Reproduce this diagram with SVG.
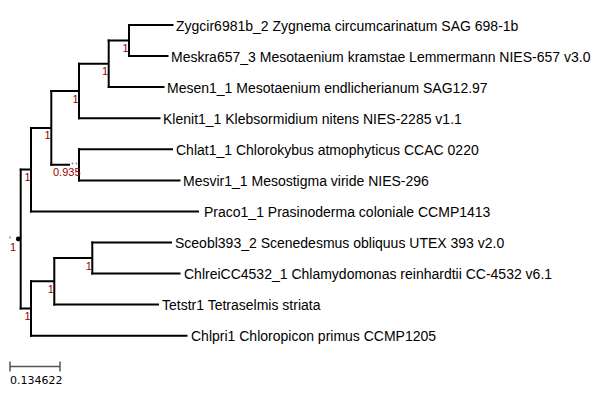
<svg xmlns="http://www.w3.org/2000/svg" width="600" height="411" viewBox="0 0 600 411">
<style>
.br{stroke:#000;stroke-width:2;fill:none;stroke-linecap:square}
.leaf{font-family:"Liberation Sans",Arial,sans-serif;font-size:14px;fill:#000}
.sup{font-family:"Liberation Sans",Arial,sans-serif;font-size:11px;fill:#990000;text-anchor:end}
.scale{stroke:#555;stroke-width:1.5;fill:none}
.stxt{font-family:"DejaVu Sans",sans-serif;font-size:11px;fill:#000}
</style>
<rect width="600" height="411" fill="#fff"/>
<g id="connectors">
<path class="br" d="M20.7,169.6V308.5"/>
<path class="br" d="M20.7,169.6H31M31,127.9V211.4"/>
<path class="br" d="M31,127.9H51.3M51.3,91V164.8"/>
<path class="br" d="M51.3,91H79M79,63.8V118.2"/>
<path class="br" d="M79,63.8H108.7M108.7,40.5V87.1"/>
<path class="br" d="M108.7,40.5H129M129,25V56.1"/>
<path class="br" d="M51.3,164.8H69M79,149.3V180.4"/>
<path class="br" d="M20.7,308.5H31M31,281.3V335.7"/>
<path class="br" d="M31,281.3H54.3M54.3,258V304.6"/>
<path class="br" d="M54.3,258H92.3M92.3,242.5V273.6"/>
<path class="br" d="M129,25H172.5"/>
<path class="br" d="M129,56.1H167.5"/>
<path class="br" d="M108.7,87.1H163.5"/>
<path class="br" d="M79,118.2H159.5"/>
<path class="br" d="M79,149.3H172"/>
<path class="br" d="M79,180.4H179.5"/>
<path class="br" d="M31,211.4H198"/>
<path class="br" d="M92.3,242.5H171"/>
<path class="br" d="M92.3,273.6H179.5"/>
<path class="br" d="M54.3,304.6H158"/>
<path class="br" d="M31,335.7H186.5"/>
<circle cx="72.5" cy="163.5" r="0.9" fill="#888"/>
<circle cx="76.5" cy="163.5" r="0.9" fill="#888"/>
<circle cx="18.3" cy="239" r="2.4" fill="#000"/>
<circle cx="10" cy="237.5" r="0.9" fill="#888"/>
</g>
<g id="leaf-labels">
<text class="leaf" x="176" y="30.5">Zygcir6981b_2 Zygnema circumcarinatum SAG 698-1b</text>
<text class="leaf" x="171" y="61.6">Meskra657_3 Mesotaenium kramstae Lemmermann NIES-657 v3.0</text>
<text class="leaf" x="167" y="92.6">Mesen1_1 Mesotaenium endlicherianum SAG12.97</text>
<text class="leaf" x="163" y="123.7">Klenit1_1 Klebsormidium nitens NIES-2285 v1.1</text>
<text class="leaf" x="176" y="154.8">Chlat1_1 Chlorokybus atmophyticus CCAC 0220</text>
<text class="leaf" x="183" y="185.9">Mesvir1_1 Mesostigma viride NIES-296</text>
<text class="leaf" x="204" y="216.9">Praco1_1 Prasinoderma coloniale CCMP1413</text>
<text class="leaf" x="175" y="248">Sceobl393_2 Scenedesmus obliquus UTEX 393 v2.0</text>
<text class="leaf" x="184" y="279.1">ChlreiCC4532_1 Chlamydomonas reinhardtii CC-4532 v6.1</text>
<text class="leaf" x="162" y="310.1">Tetstr1 Tetraselmis striata</text>
<text class="leaf" x="191" y="341.2">Chlpri1 Chloropicon primus CCMP1205</text>
</g>
<g id="support-labels">
<text class="sup" x="128.5" y="52">1</text>
<text class="sup" x="108" y="75.3">1</text>
<text class="sup" x="78.5" y="102.5">1</text>
<text class="sup" x="50.5" y="139.4">1</text>
<text class="sup" x="80.5" y="176">0.935</text>
<text class="sup" x="30.5" y="181">1</text>
<text class="sup" x="16" y="250.5">1</text>
<text class="sup" x="91.8" y="269.5">1</text>
<text class="sup" x="53.8" y="292.8">1</text>
<text class="sup" x="30.5" y="320">1</text>
</g>
<g id="scale-bar">
<path class="scale" d="M10,366.5H60M10,361.5V371.5M60,361.5V371.5"/>
<text class="stxt" x="10" y="384">0.134622</text>
</g>
</svg>
